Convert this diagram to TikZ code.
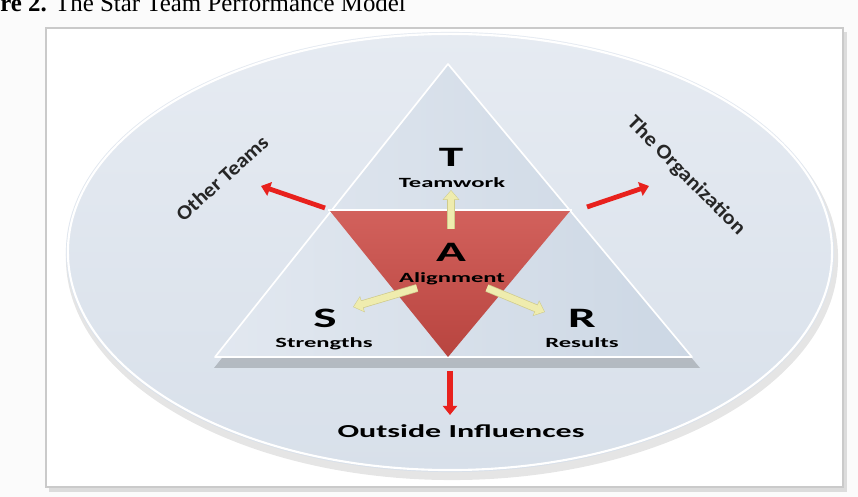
\documentclass[tikz,border=0pt]{standalone}
\usepackage{fontspec}
\setmainfont{Liberation Serif}
\newfontfamily\calibri{Carlito}
\usetikzlibrary{arrows.meta}

\definecolor{panelline}{HTML}{CACACA}
\definecolor{discfill}{HTML}{D8E0EA}
\definecolor{disctop}{HTML}{E6EBF2}
\definecolor{trifill}{HTML}{CCD7E4}
\definecolor{trilight}{HTML}{E2E8F0}
\definecolor{redtop}{HTML}{D2615C}
\definecolor{redbot}{HTML}{B8443F}
\definecolor{arrowred}{HTML}{E8211D}
\definecolor{paleyellow}{HTML}{EFECAE}
\definecolor{yellowedge}{HTML}{CFCB8C}

\newcommand{\widen}[1]{\scalebox{1.75}[1]{#1}}

\tikzset{
  biglet/.style={anchor=base, inner sep=0, font=\calibri\bfseries\fontsize{20}{24}\selectfont},
  smalllabel/.style={anchor=base, inner sep=0, font=\calibri\bfseries\fontsize{10}{12}\selectfont},
  sidelabel/.style={inner sep=0, text=black!85, font=\calibri\bfseries\fontsize{14.5}{17}\selectfont},
  redarrow/.style={draw=arrowred, line width=3.4pt, -{Triangle[length=6.5pt,width=10pt]}},
  yellowarrow/.style={draw=paleyellow, line width=4.6pt, -{Triangle[length=6pt,width=10pt]}},
  yellowrim/.style={draw=yellowedge, line width=5.6pt, -{Triangle[length=7pt,width=11.5pt]}},
}

\begin{document}
\begin{tikzpicture}[x=0.025cm, y=-0.025cm]
  \useasboundingbox (0,0) rectangle (858,497);
  \fill[gray!3] (0,0) rectangle (858,497);

  % caption, cut at the top
  \node[anchor=base west, inner sep=0, font=\fontsize{17.7}{20}\selectfont] (caption) at (0,12)
    {\textbf{re 2.} The Star Team Performance Model};

  % panel
  \fill[black, opacity=0.12] (49,32) rectangle (847,492);
  \draw[panelline, line width=1.2pt, fill=white] (46,28) rectangle (843,487);

  % disc
  \fill[black, opacity=0.10] (452,258) ellipse [x radius=9.65cm, y radius=5.55cm];
  \shade[top color=disctop, bottom color=discfill] (450,252) ellipse [x radius=9.6cm, y radius=5.5cm];
  \draw[white, line width=1.5pt] (450,252) ellipse [x radius=9.55cm, y radius=5.45cm];

  % big triangle with its shadow
  \fill[black, opacity=0.18] (452,72) -- (700,368) -- (214,368) -- cycle;
  \shade[left color=trilight, right color=trifill] (448,64) -- (692,357) -- (215,357) -- cycle;
  \draw[white, line width=1.2pt, line join=round] (448,64) -- (692,357) -- (215,357) -- cycle;

  % red centre triangle
  \shade[top color=redtop, bottom color=redbot] (330,211) -- (570,211) -- (448,357) -- cycle;
  \draw[white, line width=2pt] (328,210) -- (572,210);

  % outward arrows
  \coordinate (leftv) at (325,208);
  \coordinate (lefttip) at (261,186);
  \coordinate (rightv) at (587,207);
  \coordinate (righttip) at (649,186);
  \coordinate (basev) at (450,371);
  \coordinate (basetip) at (450,415);
  \draw[redarrow] (leftv) -- (lefttip);
  \draw[redarrow] (rightv) -- (righttip);
  \draw[redarrow, line width=4pt] (basev) -- (basetip);

  % inner arrows
  \coordinate (aup) at (451,229);
  \coordinate (uptip) at (451,190);
  \coordinate (aleft) at (417,288);
  \coordinate (lefttipy) at (353,307);
  \coordinate (aright) at (487,288);
  \coordinate (righttipy) at (545,312);
  \foreach \from/\to in {aup/uptip, aleft/lefttipy, aright/righttipy} {
    \draw[yellowrim] (\from) -- (\to);
    \draw[yellowarrow, shorten >=0.6pt] (\from) -- (\to);
  }

  % labels
  \node[biglet] (t) at (451,167) {\widen{T}};
  \node[smalllabel] (teamwork) at (452,188) {\widen{Teamwork}};
  \node[biglet] (a) at (451,262) {\widen{A}};
  \node[smalllabel] (alignment) at (452,283) {\widen{Alignment}};
  \node[biglet] (s) at (325,328) {\widen{S}};
  \node[smalllabel] (strengths) at (324,348) {\widen{Strengths}};
  \node[biglet] (r) at (582,328) {\widen{R}};
  \node[smalllabel] (results) at (582,348) {\widen{Results}};
  \node[anchor=base, inner sep=0, font=\calibri\bfseries\fontsize{13}{15}\selectfont] (outside) at (461,438)
    {\widen{Outside Influences}};
  \node[sidelabel, rotate=42] (other) at (222,178) {\scalebox{1.08}[1]{Other Teams}};
  \node[sidelabel, rotate=-45] (org) at (686,176) {\scalebox{1.1}[1]{The Organization}};
\end{tikzpicture}
\end{document}
